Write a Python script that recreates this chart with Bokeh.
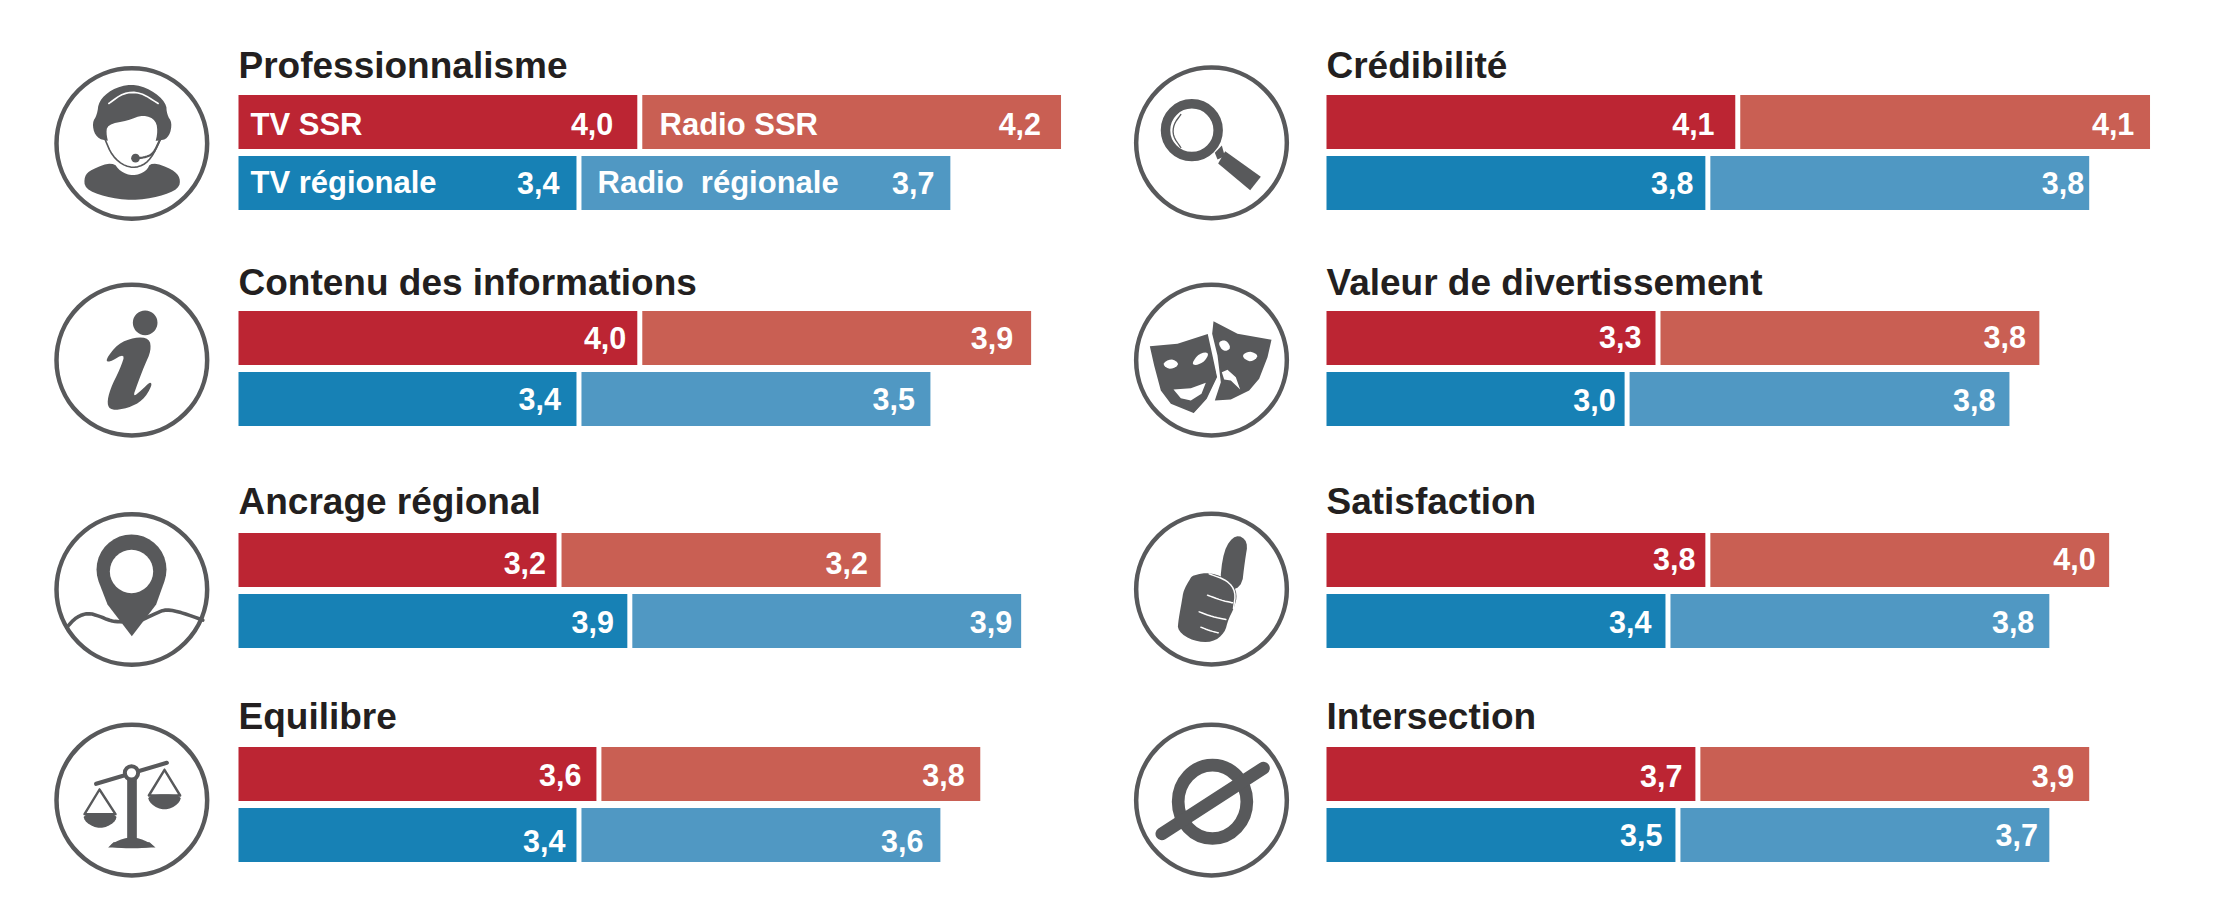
from bokeh.plotting import figure
from bokeh.models import Range1d, ColumnDataSource
from bokeh.core.properties import value
from bokeh.embed import file_html
from bokeh.resources import INLINE
import math

# ---------- data (bar lengths as measured; labels show them rounded to one decimal) ----------
categories = ["Professionnalisme", "Contenu des informations", "Ancrage régional", "Equilibre",
              "Crédibilité", "Valeur de divertissement", "Satisfaction", "Intersection"]
tv_ssr = [4.00, 4.00, 3.19, 3.59, 4.10, 3.30, 3.80, 3.70]
radio_ssr = [4.20, 3.90, 3.20, 3.80, 4.11, 3.80, 4.00, 3.90]
tv_regionale = [3.39, 3.39, 3.90, 3.39, 3.80, 2.99, 3.40, 3.50]
radio_regionale = [3.70, 3.50, 3.90, 3.60, 3.80, 3.81, 3.80, 3.70]
series_names = ["TV SSR", "Radio SSR", "TV régionale", "Radio \u00a0régionale"]

# ---------- layout ----------
PX_PER_UNIT = 99.7
ORIGIN = 238.0
RIGHT_ORIGIN = 1326.0
GAP = 0.05
RIGHT_SHIFT = (RIGHT_ORIGIN - ORIGIN) / PX_PER_UNIT
panel_col = [0, 0, 0, 0, 1, 1, 1, 1]
row_top = [94.5, 310.5, 532.5, 746.5]
row_title = [78, 295, 514, 729]
BAR_H = 54
ROW_STEP = 61
RED, SALMON, BLUE, LBLUE = "#bc2533", "#c95f53", "#1781b5", "#5098c3"
DARK, INK = "#58595b", "#231f20"
LABEL_FONT = value("Liberation Sans")
VALUE_SIZE = "30.5px"
TEXT_LIFT_VALUE = -11
TEXT_LIFT_TITLE = -13

# distance from bar end to label right edge, per category
dx_tv_ssr = [-24, -11, -10.5, -15, -20.7, -14, -10, -13]
dx_radio_ssr = [-20, -18, -12.7, -15.5, -15.7, -13.5, -13.5, -15]
dx_tv_reg = [-17, -15.5, -13.4, -11, -12, -9, -14, -13]
dx_radio_reg = [-16, -15.5, -9, -17, -5, -14, -15, -11.4]
# baselines, in page pixels
base_ssr = [134, 348, 573, 785, 134, 347, 569.5, 786]
base_reg = [193, 409, 632, 851, 193, 410, 632, 845]

W, H = 2199, 902
p = figure(width=W, height=H, output_backend="svg", toolbar_location=None,
           x_range=Range1d((0 - ORIGIN) / PX_PER_UNIT, (W - ORIGIN) / PX_PER_UNIT),
           y_range=Range1d(H, 0), x_axis_location=None, y_axis_location=None,
           min_border=0, outline_line_color=None, background_fill_color="white")
p.xgrid.visible = False
p.ygrid.visible = False
p.extra_x_ranges = {"px": Range1d(0, W)}


def fmt(v):
    return f"{v:.1f}".replace(".", ",")


# ---------- bars and value labels ----------
for series, colour, second, first_series, dxs, bases, upper in [
    (tv_ssr, RED, False, None, dx_tv_ssr, base_ssr, True),
    (radio_ssr, SALMON, True, tv_ssr, dx_radio_ssr, base_ssr, True),
    (tv_regionale, BLUE, False, None, dx_tv_reg, base_reg, False),
    (radio_regionale, LBLUE, True, tv_regionale, dx_radio_reg, base_reg, False),
]:
    shift = [RIGHT_SHIFT * c for c in panel_col]
    rows = [i % 4 for i in range(8)]
    left = [s + (first_series[i] + GAP if second else 0) for i, s in enumerate(shift)]
    right = [l + v for l, v in zip(left, series)]
    y = [row_top[r] + BAR_H / 2 + (0 if upper else ROW_STEP) for r in rows]
    src = ColumnDataSource(dict(left=left, right=right, y=y, label=[fmt(v) for v in series],
                                dx=dxs, base=bases))
    p.hbar(y="y", left="left", right="right", height=BAR_H, source=src, fill_color=colour, line_color=None)
    p.text(x="right", y="base", text="label", x_offset="dx", y_offset=TEXT_LIFT_VALUE, source=src,
           text_color="white", text_font=LABEL_FONT, text_font_style="bold", text_font_size=VALUE_SIZE,
           text_align="right", text_baseline="alphabetic")

# ---------- titles ----------
tx = [ORIGIN if c == 0 else RIGHT_ORIGIN for c in panel_col]
ty = [row_title[i % 4] for i in range(8)]
p.text(x=tx, y=ty, text=categories, x_range_name="px", y_offset=TEXT_LIFT_TITLE, text_color=INK,
       text_font=LABEL_FONT, text_font_style="bold", text_font_size="37px", text_align="left",
       text_baseline="alphabetic")

# ---------- legend labels inside the first block ----------
p.text(x=[250, 659, 250, 597], y=[135, 135, 193, 193], text=series_names, x_range_name="px",
       y_offset=TEXT_LIFT_VALUE, text_color="white", text_font=LABEL_FONT, text_font_style="bold",
       text_font_size="31px", text_align="left", text_baseline="alphabetic")


# ---------- icons ----------
def chaikin(pts, n=2):
    for _ in range(n):
        out = []
        for i in range(len(pts)):
            a, b = pts[i], pts[(i + 1) % len(pts)]
            out.append((0.75 * a[0] + 0.25 * b[0], 0.75 * a[1] + 0.25 * b[1]))
            out.append((0.25 * a[0] + 0.75 * b[0], 0.25 * a[1] + 0.75 * b[1]))
        pts = out
    return pts


def chaikin_open(pts, n=2):
    for _ in range(n):
        out = [pts[0]]
        for a, b in zip(pts[:-1], pts[1:]):
            out.append((0.75 * a[0] + 0.25 * b[0], 0.75 * a[1] + 0.25 * b[1]))
            out.append((0.25 * a[0] + 0.75 * b[0], 0.25 * a[1] + 0.75 * b[1]))
        out.append(pts[-1])
        pts = out
    return pts


class Icon:
    """Draws in the 510-unit space of a 170 px square whose corner is (ox, oy)."""
    def __init__(self, ox, oy):
        self.ox, self.oy = ox - 1, oy - 1

    def X(self, pts):
        return [self.ox + a / 3 for a, _ in pts]

    def Y(self, pts):
        return [self.oy + b / 3 for _, b in pts]

    def poly(self, pts, color=DARK):
        p.patch(self.X(pts), self.Y(pts), x_range_name="px", fill_color=color, line_color=None)

    def blob(self, pts, color=DARK):
        self.poly(chaikin(pts), color)

    def line(self, pts, w, color=DARK, smooth=True):
        if smooth:
            pts = chaikin_open(pts)
        p.line(self.X(pts), self.Y(pts), x_range_name="px", line_color=color, line_width=w,
               line_cap="round", line_join="round")

    def ell(self, cx, cy, rx, ry=None, color=DARK, line=None, w=0):
        ry = rx if ry is None else ry
        p.ellipse([self.ox + cx / 3], [self.oy + cy / 3], width=2 * rx / 3, height=2 * ry / 3,
                  x_range_name="px", fill_color=color, line_color=line, line_width=w)

    def ring(self, cx, cy, r=226):
        self.ell(cx, cy, r, color="white", line=DARK, w=4.5)


# headset
a = Icon(50, 60)
a.ring(247, 252)
a.blob([(128, 190), (143, 165), (148, 125), (185, 90), (245, 72), (305, 90), (350, 130), (352, 165),
        (368, 190), (360, 230), (335, 246), (165, 246), (136, 228)])
a.line([(178, 132), (222, 100), (272, 98), (326, 132)], 1.6, color="white")
a.blob([(173, 195), (235, 183), (282, 165), (320, 182), (325, 225), (308, 275), (282, 312), (250, 322),
        (215, 310), (185, 275), (170, 228)], color="white")
a.line([(166, 238), (188, 290), (228, 322), (270, 324), (305, 298), (332, 240)], 1.6)
a.line([(262, 296), (290, 293), (312, 282), (332, 240)], 2.2)
a.ell(258, 296, 13)
a.blob([(104, 350), (125, 330), (190, 306), (212, 336), (250, 350), (290, 336), (305, 306), (370, 330),
        (393, 355), (388, 388), (330, 412), (247, 424), (165, 412), (106, 388)])

# info
a = Icon(50, 276)
a.ring(247, 254)
a.ell(287, 142, 37)
a.blob([(168, 252), (205, 205), (255, 185), (300, 188), (305, 225), (285, 270), (262, 330), (250, 365),
        (275, 345), (302, 318), (308, 330), (280, 375), (235, 398), (185, 405), (172, 385), (182, 340),
        (212, 280), (228, 232), (178, 262)])

# pin
a = Icon(50, 505)
a.ring(247, 255)
a.line([(55, 365), (80, 338), (115, 325), (150, 335), (185, 350), (215, 352)], 3.6)
a.line([(280, 345), (320, 326), (350, 314), (400, 325), (460, 347)], 3.6)
pin = []
for deg in range(-200, 21, 10):
    t = math.radians(deg)
    pin.append((246 + 105 * math.cos(t), 195 + 105 * math.sin(t)))
a.poly(pin + [(320, 300), (247, 395), (174, 300)])
a.ell(246, 201, 65, color="white")

# scales
a = Icon(50, 716)
a.ring(247, 254)
a.line([(140, 205), (352, 142)], 4.2, smooth=False)
a.poly([(233, 180), (262, 180), (262, 372), (233, 372)])
a.ell(246, 172, 20, color="white", line=DARK, w=4)
a.blob([(176, 398), (195, 378), (247, 362), (296, 378), (318, 398)])
a.poly([(176, 396), (318, 396), (300, 380), (192, 380)])
a.line([(150, 222), (105, 296), (198, 296), (150, 222)], 2.4, smooth=False)
a.blob([(99, 294), (204, 294), (196, 322), (152, 342), (108, 322)])
a.line([(345, 163), (298, 240), (392, 240), (345, 163)], 2.4, smooth=False)
a.blob([(292, 237), (398, 237), (387, 267), (345, 286), (303, 267)])

# magnifier
a = Icon(1128, 60)
a.ring(252, 250)
a.ell(193, 212, 79, color="white", line=DARK, w=9.5)
a.line([(160, 165), (138, 195), (136, 230), (160, 264)], 1.3)
a.poly([(262, 280), (283, 258), (292, 290), (270, 300)])
a.poly([(293, 275), (400, 352), (368, 392), (272, 312)])

# masks
a = Icon(1128, 276)
a.ring(252, 254)
a.poly([(258, 137), (330, 175), (432, 193), (420, 245), (395, 310), (365, 345), (310, 372), (262, 375),
        (280, 320), (270, 240), (254, 175)])
a.blob([(270, 200), (295, 192), (312, 218), (288, 230)], color="white")
a.blob([(340, 242), (365, 225), (396, 240), (370, 262)], color="white")
a.poly([(283, 290), (300, 283), (325, 305), (338, 342), (310, 315), (290, 312)], color="white")
a.poly([(67, 212), (150, 205), (243, 175), (258, 240), (270, 305), (240, 370), (200, 413), (130, 385),
        (100, 345), (80, 270)])
a.line([(243, 172), (258, 240), (272, 305), (240, 372), (200, 416)], 2.0, color="white", smooth=False)
a.blob([(102, 266), (130, 248), (158, 265), (130, 284)], color="white")
a.blob([(192, 264), (215, 233), (246, 230), (232, 258), (205, 270)], color="white")
a.poly([(138, 342), (190, 338), (235, 322), (222, 355), (190, 375), (160, 368)], color="white")

# thumb
a = Icon(1128, 505)
a.ring(252, 254)
a.blob([(275, 255), (288, 135), (325, 88), (362, 110), (352, 170), (342, 255)])
a.blob([(195, 212), (250, 203), (312, 230), (330, 270), (320, 310), (302, 345), (292, 385), (255, 414),
        (198, 410), (150, 380), (153, 345), (163, 290), (168, 258), (186, 226)])
a.line([(245, 208), (300, 228), (325, 262), (318, 312)], 1.5, color="white")
a.line([(240, 272), (280, 287), (315, 295)], 1.5, color="white")
a.line([(215, 322), (255, 337), (295, 345)], 1.5, color="white")
a.line([(220, 368), (245, 378), (272, 385)], 1.5, color="white")

# intersection
a = Icon(1128, 716)
a.ring(252, 254)
a.ell(255, 259, 103, 110, color="white", line=DARK, w=12.7)
a.line([(103, 355), (408, 158)], 12.7, smooth=False)

open("out.html", "w").write(file_html(p, INLINE))
